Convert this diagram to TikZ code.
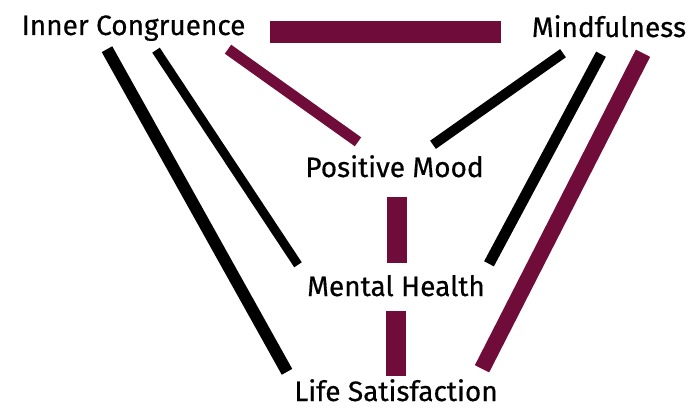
\documentclass[tikz,border=0pt]{standalone}
\usepackage{fontspec}
\setmainfont{Fira Sans}
\newfontfamily\labelfont{Fira Sans}[FakeBold=0.5]
\usepackage{xcolor}
\usepackage{tikz}
\definecolor{wine}{HTML}{700C3A}
\tikzset{
  lbl/.style={anchor=base, inner sep=0pt, text height=21pt, text depth=6pt, font=\labelfont\fontsize{28}{30}\selectfont},
  link/.style={line width=#1}
}

\begin{document}
\begin{tikzpicture}[x=1pt,y=-1pt]
    \useasboundingbox (0,0) rectangle (690,409);
    \node[lbl] (ic) at (133.5,35) {Inner Congruence};
    \node[lbl] (mf) at (609,37) {Mindfulness};
    \node[lbl] (pm) at (394.5,177) {Positive Mood};
    \node[lbl] (mh) at (396,296) {Mental Health};
    \node[lbl, text depth=2pt] (ls) at (396,401) {Life Satisfaction};

    \draw[wine, link=22pt] ([xshift=136.5pt,yshift=9pt]ic.south) -- ([xshift=-108pt,yshift=11pt]mf.south);
    \draw[black, link=12pt] ([xshift=-26.5pt,yshift=-8pt]ic.south) -- ([xshift=-109pt,yshift=8pt]ls.north);
    \draw[black, link=9pt] ([xshift=22.5pt,yshift=-9pt]ic.south) -- ([xshift=-98pt,yshift=10pt]mh.north);
    \draw[wine, link=11pt] ([xshift=94.5pt,yshift=-8pt]ic.south) -- ([xshift=-36.5pt,yshift=14pt]pm.north);
    \draw[black, link=10pt] ([xshift=-46pt,yshift=-10pt]mf.south) -- ([xshift=38.5pt,yshift=11pt]pm.north);
    \draw[black, link=11pt] ([xshift=-8pt,yshift=-11pt]mf.south) -- ([xshift=93pt,yshift=11pt]mh.north);
    \draw[wine, link=16pt] ([xshift=34pt,yshift=-10pt]mf.south) -- ([xshift=86pt,yshift=11pt]ls.north);
    \draw[wine, link=20pt] ([xshift=2.5pt,yshift=-14pt]pm.south) -- ([xshift=1pt,yshift=12pt]mh.north);
    \draw[wine, link=20pt] ([yshift=-9pt]mh.south) -- ([yshift=4pt]ls.north);
\end{tikzpicture}
\end{document}
